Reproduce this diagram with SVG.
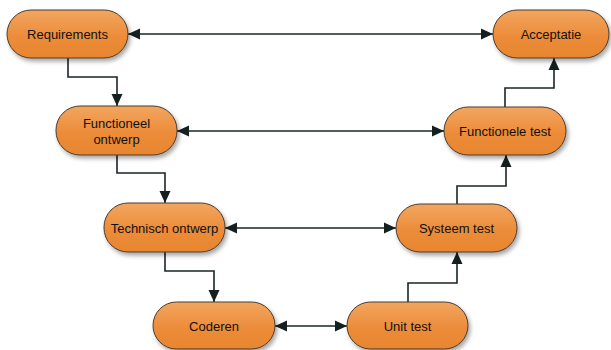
<svg xmlns="http://www.w3.org/2000/svg" width="611" height="350" viewBox="0 0 611 350">
  <style>
    .box { fill: url(#orange); stroke: #4a3c30; stroke-width: 1; filter: url(#shadow); }
    .lbl { font-family: "Liberation Sans", Arial, sans-serif; font-size: 13px; fill: #111111; text-anchor: middle; dominant-baseline: central; }
    .link { fill: none; stroke: #1a2626; stroke-width: 1.6; }
  </style>
  <defs>
    <linearGradient id="orange" x1="0" y1="0" x2="0" y2="1">
      <stop offset="0" stop-color="#f2a660"/>
      <stop offset="0.55" stop-color="#ec8c3a"/>
      <stop offset="1" stop-color="#e8862e"/>
    </linearGradient>
    <filter id="shadow" x="-20%" y="-20%" width="140%" height="160%">
      <feDropShadow dx="2" dy="3" stdDeviation="2" flood-color="#000" flood-opacity="0.35"/>
    </filter>
    <marker id="arrow" viewBox="0 0 12 12" refX="12" refY="6" markerWidth="12" markerHeight="12" markerUnits="userSpaceOnUse" orient="auto-start-reverse">
      <path d="M0,0.5 L12,6 L0,11.5 z" fill="#142020"/>
    </marker>
  </defs>

  <rect width="611" height="350" fill="#ffffff"/>

  <g id="connectors">
    <path class="link" d="M128,34 H493" marker-start="url(#arrow)" marker-end="url(#arrow)"/>
    <path class="link" d="M68,58 V77 H117 V106" marker-end="url(#arrow)"/>
    <path class="link" d="M177,131 H444" marker-start="url(#arrow)" marker-end="url(#arrow)"/>
    <path class="link" d="M117,155 V173 H165 V203" marker-end="url(#arrow)"/>
    <path class="link" d="M225,228 H396" marker-start="url(#arrow)" marker-end="url(#arrow)"/>
    <path class="link" d="M165,252 V271 H214 V302" marker-end="url(#arrow)"/>
    <path class="link" d="M275,326 H347" marker-start="url(#arrow)" marker-end="url(#arrow)"/>
    <path class="link" d="M408,302 V283 H457 V252" marker-end="url(#arrow)"/>
    <path class="link" d="M457,204 V186 H506 V155" marker-end="url(#arrow)"/>
    <path class="link" d="M505,107 V88 H554 V58" marker-end="url(#arrow)"/>
  </g>

  <g id="requirements">
    <rect class="box" x="7" y="10" width="121" height="48" rx="24"/>
    <text class="lbl" x="67.5" y="34">Requirements</text>
  </g>
  <g id="acceptatie">
    <rect class="box" x="493" y="10" width="116" height="48" rx="24"/>
    <text class="lbl" x="551" y="34">Acceptatie</text>
  </g>
  <g id="functioneel-ontwerp">
    <rect class="box" x="56" y="106" width="121" height="49" rx="24"/>
    <text class="lbl" x="116.5" y="123">Functioneel</text>
    <text class="lbl" x="116.5" y="139">ontwerp</text>
  </g>
  <g id="functionele-test">
    <rect class="box" x="444" y="107" width="122" height="48" rx="24"/>
    <text class="lbl" x="505" y="131">Functionele test</text>
  </g>
  <g id="technisch-ontwerp">
    <rect class="box" x="104" y="203" width="121" height="49" rx="24"/>
    <text class="lbl" x="164.5" y="228">Technisch ontwerp</text>
  </g>
  <g id="systeem-test">
    <rect class="box" x="396" y="204" width="121" height="48" rx="24"/>
    <text class="lbl" x="456.5" y="228">Systeem test</text>
  </g>
  <g id="coderen">
    <rect class="box" x="153" y="302" width="122" height="47" rx="23.5"/>
    <text class="lbl" x="214" y="326">Coderen</text>
  </g>
  <g id="unit-test">
    <rect class="box" x="347" y="302" width="121" height="47" rx="23.5"/>
    <text class="lbl" x="407.5" y="326">Unit test</text>
  </g>
</svg>
